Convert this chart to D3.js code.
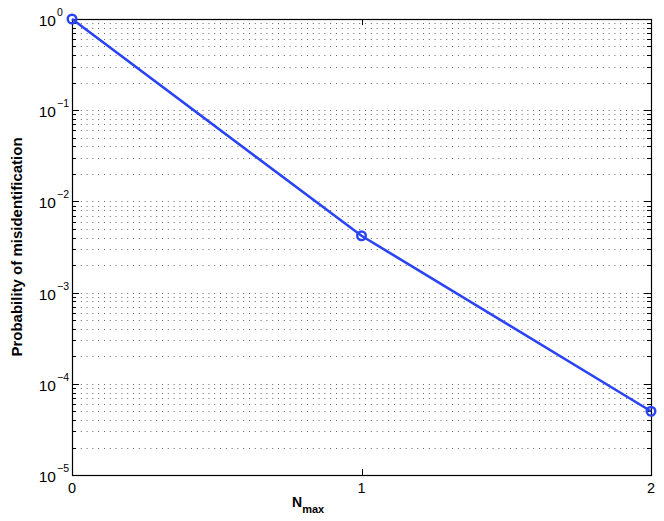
<!DOCTYPE html>
<html><head><meta charset="utf-8">
<script src="https://cdn.jsdelivr.net/npm/d3@7"></script>
<style>body{margin:0;background:#fff}svg{display:block}text{font-family:"Liberation Sans",Arial,sans-serif;fill:#000}</style>
</head><body><svg id="c" width="664" height="521"></svg>
<script>
const nmax = [0, 1, 2];
const prob = [1.0, 4.2e-3, 5.0e-5];
const yTickExps = [0, -1, -2, -3, -4, -5];
const xTicks = [0, 1, 2];

const svg = d3.select("#c");
const m = {l: 72, r: 651, t: 19, b: 475};
const x = d3.scaleLinear().domain([0, 2]).range([m.l, m.r]);
const y = d3.scaleLog().domain([1e-5, 1]).range([m.b, m.t]);

const gridVals = [];
for (let e = -5; e < 0; e++) for (let k = 1; k <= 9; k++) gridVals.push(k * Math.pow(10, e));
gridVals.push(1);

const g = svg.append("g");
g.selectAll("line.grid").data(gridVals.filter(v => v > 1e-5 && v < 1)).enter().append("line")
  .attr("x1", m.l + 3).attr("x2", m.r)
  .attr("y1", d => Math.round(y(d)) + 0.5).attr("y2", d => Math.round(y(d)) + 0.5)
  .attr("stroke", "#666").attr("stroke-width", 1).attr("stroke-dasharray", "1,4.8");

gridVals.forEach(d => {
  const major = Math.abs(Math.log10(d) - Math.round(Math.log10(d))) < 1e-9;
  const len = major ? 7 : 4;
  const yy = Math.round(y(d)) + 0.5;
  g.append("line").attr("x1", m.l).attr("x2", m.l + len).attr("y1", yy).attr("y2", yy).attr("stroke", "#000");
  g.append("line").attr("x1", m.r - len).attr("x2", m.r).attr("y1", yy).attr("y2", yy).attr("stroke", "#000");
});
xTicks.forEach(t => {
  const xx = Math.round(x(t)) + 0.5;
  g.append("line").attr("x1", xx).attr("x2", xx).attr("y1", m.b).attr("y2", m.b - 6).attr("stroke", "#000");
  g.append("line").attr("x1", xx).attr("x2", xx).attr("y1", m.t).attr("y2", m.t + 6).attr("stroke", "#000");
  g.append("text").attr("x", x(t)).attr("y", m.b + 18).attr("text-anchor", "middle")
    .attr("font-size", 14.5).text(t);
});
g.append("rect").attr("x", m.l + 0.5).attr("y", m.t + 0.5).attr("width", m.r - m.l).attr("height", m.b - m.t)
  .attr("fill", "none").attr("stroke", "#000").attr("stroke-width", 1.2);

yTickExps.forEach(e => {
  const yy = y(Math.pow(10, e));
  g.append("text").attr("x", 56).attr("y", yy + 7).attr("text-anchor", "end").attr("font-size", 15.5).text("10");
  g.append("text").attr("x", 57).attr("y", yy - 3).attr("text-anchor", "start").attr("font-size", 10.5)
    .text(e === 0 ? "0" : "\u2212" + Math.abs(e));
});

const pts = nmax.map((n, i) => [n, prob[i]]);
g.append("path").datum(pts)
  .attr("d", d3.line().x(d => x(d[0])).y(d => y(d[1])))
  .attr("fill", "none").attr("stroke", "#2a44f5").attr("stroke-width", 2.6);
g.selectAll("circle.pt").data(pts).enter().append("circle")
  .attr("cx", d => x(d[0])).attr("cy", d => y(d[1])).attr("r", 4.3)
  .attr("fill", "none").attr("stroke", "#2a44f5").attr("stroke-width", 2.4);

const xl = g.append("text").attr("x", 292).attr("y", 507).attr("text-anchor", "start")
  .attr("font-size", 14).attr("font-weight", "bold");
xl.append("tspan").text("N");
xl.append("tspan").attr("dy", 6).attr("font-size", 11).text("max");
g.append("text").attr("transform", `translate(22,${(m.t + m.b) / 2}) rotate(-90)`)
  .attr("text-anchor", "middle").attr("font-size", 15).attr("font-weight", "bold")
  .text("Probability of misidentification");
</script></body></html>
